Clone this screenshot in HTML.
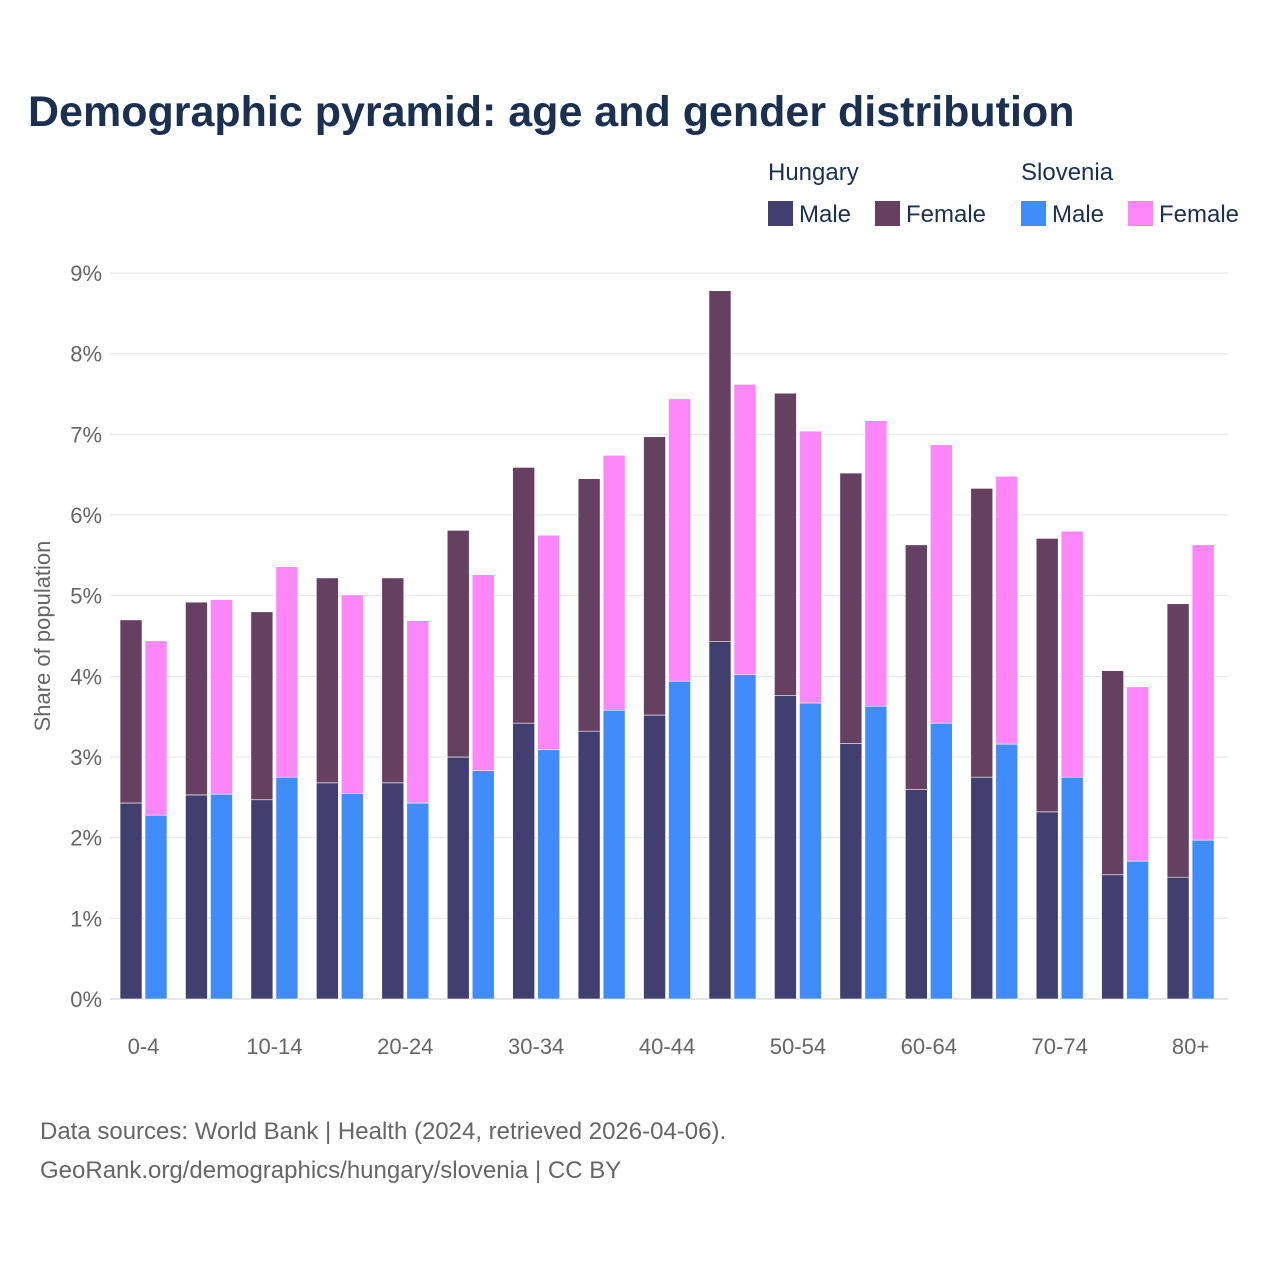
<!DOCTYPE html>
<html><head><meta charset="utf-8"><style>
body{margin:0;background:#fff;}
svg text{font-family:"Liberation Sans",sans-serif;}
</style></head><body>
<svg id="chart" width="1280" height="1280" viewBox="0 0 1280 1280">
<rect width="1280" height="1280" fill="#fff"/>
<text x="28" y="126" font-size="43" font-weight="bold" fill="#1b3050">Demographic pyramid: age and gender distribution</text>
<g font-size="24" fill="#1b3050">
<text x="768" y="180" fill="#1b3050">Hungary</text>
<text x="1021" y="180" fill="#1b3050">Slovenia</text>
<rect x="768" y="201" width="25" height="25" fill="#413f70"/>
<text x="799" y="222" fill="#1b3050">Male</text>
<rect x="875" y="201" width="25" height="25" fill="#654060"/>
<text x="906" y="222" fill="#1b3050">Female</text>
<rect x="1021" y="201" width="25" height="25" fill="#418cfc"/>
<text x="1052" y="222" fill="#1b3050">Male</text>
<rect x="1128" y="201" width="25" height="25" fill="#fd86f9"/>
<text x="1159" y="222" fill="#1b3050">Female</text>
</g>
<g id="grid"></g>
<g id="bars"></g>
<g id="xlabels"></g>
<text transform="translate(50,636) rotate(-90)" text-anchor="middle" font-size="22" fill="#666">Share of population</text>
<text x="40" y="1139" font-size="24" fill="#666">Data sources: World Bank | Health (2024, retrieved 2026-04-06).</text>
<text x="40" y="1178" font-size="24" fill="#666">GeoRank.org/demographics/hungary/slovenia | CC BY</text>
</svg>
<script>
const categories=["0-4","5-9","10-14","15-19","20-24","25-29","30-34","35-39","40-44","45-49","50-54","55-59","60-64","65-69","70-74","75-79","80+"];
const shownLabels=["0-4","10-14","20-24","30-34","40-44","50-54","60-64","70-74","80+"];
const huMale=[2.43,2.53,2.47,2.68,2.68,3.00,3.42,3.32,3.52,4.43,3.76,3.17,2.60,2.75,2.32,1.54,1.51];
const huFemale=[2.27,2.39,2.33,2.54,2.54,2.81,3.17,3.13,3.45,4.35,3.75,3.35,3.03,3.58,3.39,2.53,3.39];
const siMale=[2.28,2.54,2.75,2.55,2.43,2.83,3.09,3.58,3.94,4.02,3.67,3.63,3.42,3.16,2.75,1.71,1.97];
const siFemale=[2.16,2.41,2.61,2.46,2.26,2.43,2.66,3.16,3.50,3.60,3.37,3.54,3.45,3.32,3.05,2.16,3.66];
const yTicks=[0,1,2,3,4,5,6,7,8,9];
const NS="http://www.w3.org/2000/svg";
const gx0=110,gx1=1228,y0=999,y9=273;
const x0=110.8,x1=1223.3;
const band=(x1-x0)/categories.length;
const yScale=v=>y0-(v/9)*(y0-y9);
const xCenter=i=>x0+band*(i+0.5);
function mk(tag,attrs,parent){const e=document.createElementNS(NS,tag);for(const k in attrs)e.setAttribute(k,attrs[k]);parent.appendChild(e);return e;}
const grid=document.getElementById('grid');
yTicks.forEach(t=>{
 const l=mk('line',{x1:gx0,x2:gx1,y1:yScale(t),y2:yScale(t),stroke:t===0?'#ccc':'#e6e6e6','stroke-width':1},grid);
 
 
 const tx=mk('text',{x:102,y:yScale(t)+8,'text-anchor':'end','font-size':22,fill:'#666'},grid);
 tx.textContent=t+'%';
 
 
});
const bars=document.getElementById('bars');
const w=22;
function bar(x,v0,v1,color,name){
 const r=mk('rect',{x:x,y:yScale(v1),width:w,height:yScale(v0)-yScale(v1),fill:color,stroke:'#fff','stroke-width':0.6},bars);
 
 
}
categories.forEach((c,i)=>{
 const cx=xCenter(i);
 bar(cx-23.5,0,huMale[i],'#413f70','bar-hu-male-'+c);
 bar(cx-23.5,huMale[i],huMale[i]+huFemale[i],'#654060','bar-hu-female-'+c);
 bar(cx+1.5,0,siMale[i],'#418cfc','bar-si-male-'+c);
 bar(cx+1.5,siMale[i],siMale[i]+siFemale[i],'#fd86f9','bar-si-female-'+c);
});
const xl=document.getElementById('xlabels');
categories.forEach((c,i)=>{
 if(shownLabels.indexOf(c)<0)return;
 const t=mk('text',{x:xCenter(i),y:1054,'text-anchor':'middle','font-size':22,fill:'#666'},xl);
 t.textContent=c;
 
 
});
</script>
</body></html>
